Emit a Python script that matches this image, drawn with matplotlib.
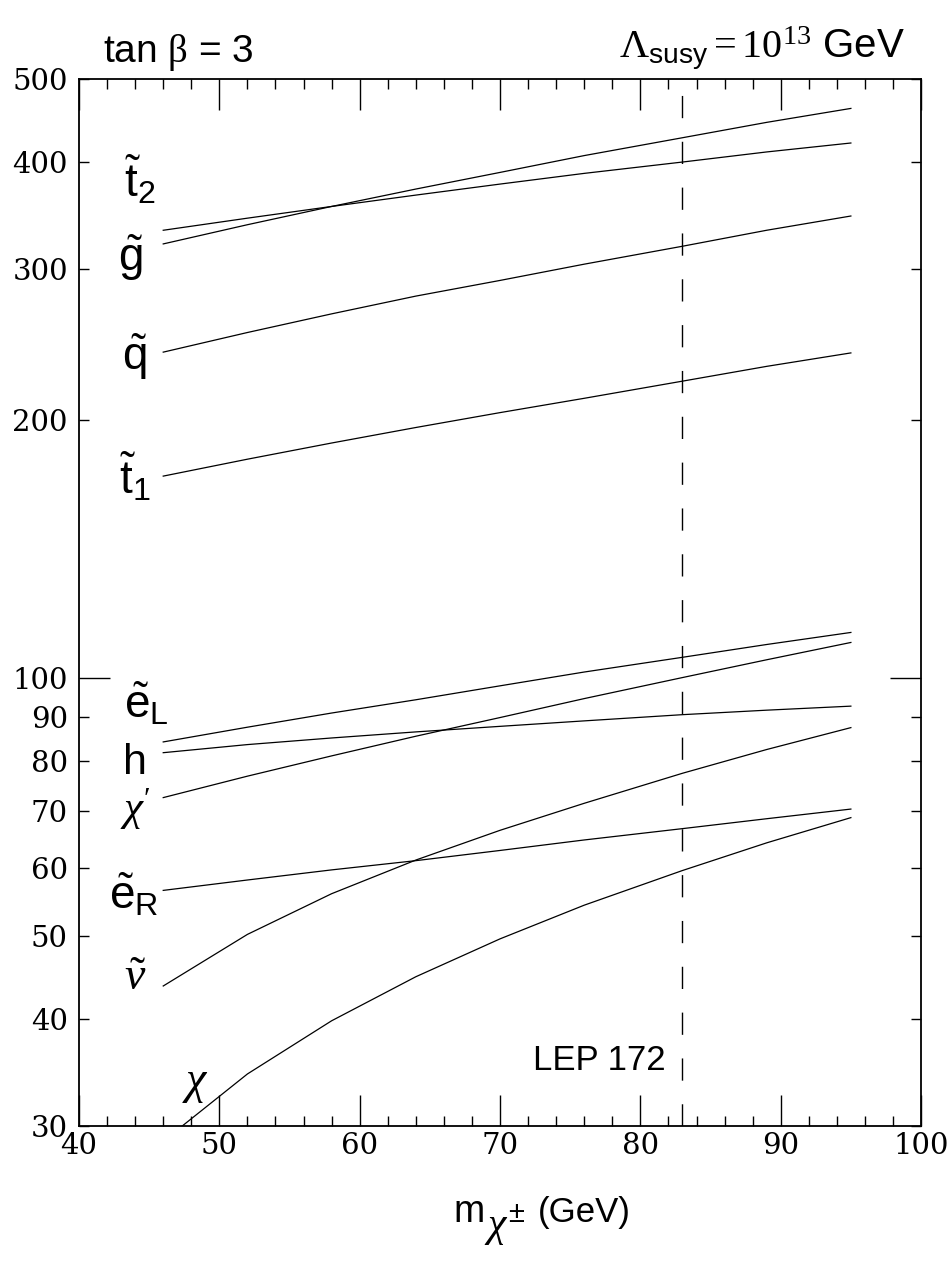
import numpy as np
import matplotlib
matplotlib.use("Agg")
import matplotlib.pyplot as plt
from matplotlib.ticker import FixedLocator, FuncFormatter

plt.rcParams['font.family'] = ['Liberation Sans', 'DejaVu Sans']
plt.rcParams['mathtext.fontset'] = 'custom'
plt.rcParams['mathtext.rm'] = 'Liberation Serif'
plt.rcParams['mathtext.sf'] = 'Liberation Sans'
plt.rcParams['mathtext.it'] = 'Liberation Serif:italic'

# chargino mass grid (GeV)
m_chargino = [46, 52, 58, 64, 70, 76, 83, 89, 95]

# sparticle masses (GeV)
m_gluino = [321, 338, 355, 372, 389, 407, 427, 445, 462]
m_stop2 = [333, 344, 355, 366, 377, 388, 400, 411, 421]
m_squark = [240, 253, 266, 279, 291, 304, 319, 333, 346]
m_stop1 = [172, 180, 188, 196, 204, 212, 222, 231, 239.5]
m_selL = [84.2, 87.6, 91.0, 94.3, 97.9, 101.6, 105.7, 109.4, 113]
m_higgs = [81.8, 83.6, 85.1, 86.5, 87.8, 89.1, 90.6, 91.7, 92.7]
m_chi2 = [72.5, 76.8, 81.1, 85.5, 89.9, 94.6, 100.1, 105, 110]
m_selR = [56.5, 58.1, 59.7, 61.2, 62.9, 64.7, 66.7, 68.5, 70.3]
m_snu = [43.7, 50.2, 56.0, 61.3, 66.4, 71.4, 77.4, 82.5, 87.5]
m_chi1 = [28.8, 34.5, 39.8, 44.8, 49.6, 54.3, 59.6, 64.2, 68.7]

lep_limit = 83

curves = [m_gluino, m_stop2, m_squark, m_stop1, m_selL, m_higgs,
          m_chi2, m_selR, m_snu, m_chi1]

# label text and where it sits (x, y in data units)
labels = [
    (r'$\tilde{\mathsf{t}}_{\mathsf{2}}$', 44.3, 380),
    (r'$\tilde{\mathsf{g}}$', 43.7, 309),
    (r'$\tilde{\mathsf{q}}$', 44.0, 237),
    (r'$\tilde{\mathsf{t}}_{\mathsf{1}}$', 44.0, 171),
    (r'$\tilde{\mathsf{e}}_{\mathsf{L}}$', 44.8, 93),
    (r'$\mathsf{h}$', 43.9, 79.6),
    (r"$\chi'$", 44.0, 70.3),
    (r'$\tilde{\mathsf{e}}_{\mathsf{R}}$', 43.9, 55.6),
    (r'$\tilde{\nu}$', 44.0, 44.6),
    (r'$\chi$', 48.3, 33.7),
]

fig = plt.figure(figsize=(9.51, 12.64), dpi=100)
ax = fig.add_axes([0.0831, 0.1092, 0.8854, 0.8283])

for c in curves:
    ax.plot(m_chargino, c, color='black', lw=0.9)

ax.axvline(lep_limit, color='black', lw=1.0, dashes=(16, 17))

ax.set_yscale('log')
ax.set_xlim(40, 100)
ax.set_ylim(30, 500)

ax.xaxis.set_major_locator(FixedLocator([40, 50, 60, 70, 80, 90, 100]))
ax.xaxis.set_minor_locator(FixedLocator(np.arange(40, 101, 2)))
ax.yaxis.set_major_locator(FixedLocator([100]))
ax.yaxis.set_minor_locator(FixedLocator([30, 40, 50, 60, 70, 80, 90, 200, 300, 400, 500]))
fmt = FuncFormatter(lambda v, p: '%d' % v)
ax.yaxis.set_major_formatter(fmt)
ax.yaxis.set_minor_formatter(fmt)

ax.tick_params(which='both', direction='in', top=True, right=True,
               labelsize=21, width=1.0, color='black',
               labelfontfamily='DejaVu Serif')
ax.tick_params(which='major', length=22)
ax.tick_params(which='minor', length=7)
ax.tick_params(axis='y', which='both', pad=8)
ax.tick_params(axis='x', which='both', pad=4)
for s in ax.spines.values():
    s.set_linewidth(1.3)

for txt, x, y in labels:
    fs = 31 if txt in (r'$\mathsf{h}$', r"$\chi'$") else 33
    ax.text(x, y, txt, fontsize=fs, ha='center', va='center')

ax.text(81.8, 35.8, 'LEP 172', fontsize=25, ha='right', va='center')

fig.text(0.108, 0.951, r'tan $\mathrm{\beta}$ = 3', fontsize=28, ha='left', va='baseline')
fig.text(0.952, 0.954, r'$\Lambda_{\mathsf{susy}}{=}10^{13}$ GeV', fontsize=29,
         ha='right', va='baseline')

# x axis title built from pieces so the subscript stays large
fig.text(453 / 951, 1 - 1222 / 1264, 'm', fontsize=27, ha='left', va='baseline')
fig.text(484 / 951, 1 - 1236 / 1264, r'$\chi$', fontsize=30, ha='left', va='baseline')
fig.text(508 / 951, 1 - 1222 / 1264, '±', fontsize=21, ha='left', va='baseline')
fig.text(538 / 951, 1 - 1222 / 1264, '(GeV)', fontsize=25, ha='left', va='baseline')

fig.savefig('out.png', dpi=100)
